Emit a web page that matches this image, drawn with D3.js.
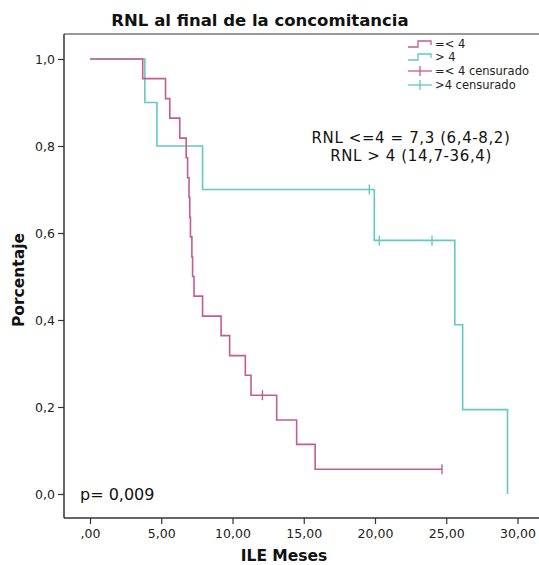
<!DOCTYPE html>
<html>
<head>
<meta charset="utf-8">
<script src="https://cdn.jsdelivr.net/npm/d3@7"></script>
<style>
html,body{margin:0;padding:0;background:#fff;}
svg{display:block;font-family:"DejaVu Sans",sans-serif;}
</style>
</head>
<body>
<svg id="chart" width="539" height="565"></svg>
<script>
// ---- data ----
const xTicks = [0, 5, 10, 15, 20, 25, 30];
const xTickLabels = [",00", "5,00", "10,00", "15,00", "20,00", "25,00", "30,00"];
const yTicks = [0, 0.2, 0.4, 0.6, 0.8, 1.0];
const yTickLabels = ["0,0", "0,2", "0,4", "0,6", "0,8", "1,0"];

// group "=< 4"
const lowTimes = [0, 3.7, 5.3, 5.6, 6.3, 6.75, 6.85, 6.95, 7.0, 7.05, 7.15, 7.2, 7.3, 7.9, 9.2, 9.8, 10.9, 11.3, 13.1, 14.5, 15.8];
const lowSurv  = [1, .955, .909, .864, .818, .773, .727, .682, .636, .591, .545, .5, .455, .409, .364, .318, .273, .227, .170, .114, .057];
const lowEnd = 24.7;
const lowCensored = [12.1, 24.7];

// group "> 4"
const highTimes = [0, 3.85, 4.7, 7.9, 19.95, 25.6, 26.15, 29.3];
const highSurv  = [1, .9, .8, .7, .583, .389, .194, 0];
const highEnd = 29.3;
const highCensored = [19.6, 20.3, 24.0];

const legendLabels = ["=< 4", "> 4", "=< 4 censurado", ">4 censurado"];
const title = "RNL al final de la concomitancia";
const annot = ["RNL <=4 = 7,3 (6,4-8,2)", "RNL > 4 (14,7-36,4)"];
const pText = "p= 0,009";

// ---- drawing ----
const pink = "#c65c8d", teal = "#62c8c8", axisC = "#333";
const svg = d3.select("#chart");
const mLeft = 64, mTop = 34, mBottom = 518, mRight = 539;
const x = d3.scaleLinear().domain([0, 30]).range([90, 517.5]);
const y = d3.scaleLinear().domain([0, 1]).range([494, 59]);

svg.append("text").attr("x", 260).attr("y", 26).attr("text-anchor", "middle")
  .attr("font-size", 16.5).attr("font-weight", "bold").attr("fill", "#111").text(title);

// frame
svg.append("line").attr("x1", mLeft).attr("x2", mRight).attr("y1", mTop).attr("y2", mTop).attr("stroke", axisC).attr("stroke-width", 1.2);

const xAxis = d3.axisBottom(x).tickValues(xTicks).tickFormat((d, i) => xTickLabels[i]).tickSize(6).tickPadding(5).tickSizeOuter(0);
const gx = svg.append("g").attr("transform", `translate(0,${mBottom})`).call(xAxis);
gx.select(".domain").remove();
gx.append("line").attr("x1", mLeft).attr("x2", mRight).attr("stroke", axisC).attr("stroke-width", 1.5);
gx.selectAll(".tick line").attr("stroke", axisC).attr("stroke-width", 1.2);
gx.selectAll(".tick text").attr("font-size", 12.5).attr("fill", "#222").attr("font-family", "DejaVu Sans, sans-serif");

const yAxis = d3.axisLeft(y).tickValues(yTicks).tickFormat((d, i) => yTickLabels[i]).tickSize(6).tickPadding(3).tickSizeOuter(0);
const gy = svg.append("g").attr("transform", `translate(${mLeft},0)`).call(yAxis);
gy.select(".domain").remove();
gy.append("line").attr("y1", mTop).attr("y2", mBottom).attr("stroke", axisC).attr("stroke-width", 1.5);
gy.selectAll(".tick line").attr("stroke", axisC).attr("stroke-width", 1.2);
gy.selectAll(".tick text").attr("font-size", 12.5).attr("fill", "#222").attr("font-family", "DejaVu Sans, sans-serif");

svg.append("text").attr("x", 284).attr("y", 561).attr("text-anchor", "middle")
  .attr("font-size", 15.5).attr("font-weight", "bold").attr("fill", "#111").text("ILE Meses");
svg.append("text").attr("transform", "translate(24,280) rotate(-90)").attr("text-anchor", "middle")
  .attr("font-size", 15.5).attr("font-weight", "bold").attr("fill", "#111").text("Porcentaje");

function stepPoints(times, surv, end) {
  const pts = [];
  for (let i = 0; i < times.length; i++) {
    if (i > 0) pts.push([times[i], surv[i - 1]]);
    pts.push([times[i], surv[i]]);
  }
  pts.push([end, surv[surv.length - 1]]);
  return pts;
}
function survAt(times, surv, t) {
  let s = surv[0];
  for (let i = 0; i < times.length; i++) if (times[i] <= t) s = surv[i];
  return s;
}
const line = d3.line().x(d => x(d[0])).y(d => y(d[1]));

function drawGroup(times, surv, end, cens, color) {
  svg.append("path").datum(stepPoints(times, surv, end)).attr("d", line)
    .attr("fill", "none").attr("stroke", color).attr("stroke-width", 1.6);
  svg.selectAll(null).data(cens).enter().append("line")
    .attr("x1", d => x(d)).attr("x2", d => x(d))
    .attr("y1", d => y(survAt(times, surv, d)) - 5).attr("y2", d => y(survAt(times, surv, d)) + 5)
    .attr("stroke", color).attr("stroke-width", 1.4);
}
drawGroup(highTimes, highSurv, highEnd, highCensored, teal);
drawGroup(lowTimes, lowSurv, lowEnd, lowCensored, pink);

// legend
const legY = [44, 57, 71, 85];
const legColors = [pink, teal, pink, teal];
legendLabels.forEach((lab, i) => {
  const yy = legY[i];
  if (i < 2) {
    svg.append("path").attr("d", `M408,${yy + 3}H418V${yy - 3}H431V${yy + 1}`)
      .attr("fill", "none").attr("stroke", legColors[i]).attr("stroke-width", 1.3);
  } else {
    svg.append("line").attr("x1", 408).attr("x2", 432).attr("y1", yy).attr("y2", yy).attr("stroke", legColors[i]).attr("stroke-width", 1.3);
    svg.append("line").attr("x1", 420).attr("x2", 420).attr("y1", yy - 5).attr("y2", yy + 5).attr("stroke", legColors[i]).attr("stroke-width", 1.3);
  }
  svg.append("text").attr("x", 435).attr("y", yy + 4).attr("font-size", 11.5).attr("fill", "#222").text(lab);
});

svg.append("text").attr("x", 411).attr("y", 143).attr("text-anchor", "middle").attr("font-size", 15).attr("letter-spacing", 0.6).attr("fill", "#111").text(annot[0]);
svg.append("text").attr("x", 411).attr("y", 161).attr("text-anchor", "middle").attr("font-size", 15).attr("letter-spacing", 0.6).attr("fill", "#111").text(annot[1]);
svg.append("text").attr("x", 80).attr("y", 500).attr("font-size", 16).attr("fill", "#111").text(pText);
</script>
</body>
</html>
